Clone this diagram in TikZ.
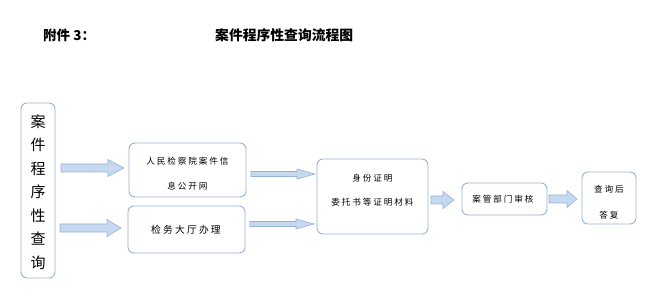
\documentclass[tikz,border=0pt]{standalone}
\usepackage{fontspec}
\setmainfont{Noto Sans CJK SC}
\newfontfamily\cjk{Noto Sans CJK SC}
\newfontfamily\cjksmall[LetterSpace=22]{Noto Sans CJK SC}
\definecolor{bordc}{HTML}{95B3D7}
\definecolor{arrfill}{HTML}{C6D9F1}
\begin{document}
\begin{tikzpicture}[x=1pt,y=-1pt,
  box/.style={draw=bordc, line width=0.9pt, rounded corners=6pt},
  barrow/.style={draw=bordc, fill=arrfill, line width=0.6pt, line join=miter},
  small/.style={font=\cjksmall\fontsize{8.6}{10}\selectfont, align=center, inner sep=0pt}
]
\useasboundingbox (0,0) rectangle (655,304);
% titles
\node[font=\cjk\bfseries\fontsize{13.5}{15}\selectfont, anchor=west, inner sep=0pt] (t1) at (43,35) {附件 3：};
\node[font=\cjk\bfseries\fontsize{13.8}{15}\selectfont, anchor=west, inner sep=0pt] (t2) at (215,35) {案件程序性查询流程图};
% boxes
\draw[box] (21,103) rectangle (55,278);
\node[inner sep=0pt, font=\cjk\fontsize{15}{23.5}\selectfont, align=center] (left) at (38,192) {案\\件\\程\\序\\性\\查\\询};
\draw[box] (129,143) rectangle (246,197);
\node[small] (b1a) at (187.5,161) {人民检察院案件信};
\node[small] (b1b) at (187.5,186) {息公开网};
\draw[box] (128,206) rectangle (245,253);
\node[inner sep=0pt, font=\cjksmall\fontsize{9.8}{10}\selectfont] (b2) at (186,230) {检务大厅办理};
\draw[box] (317,159) rectangle (428,234);
\node[small] (b3a) at (372.5,178) {身份证明};
\node[small] (b3b) at (372.5,202) {委托书等证明材料};
\draw[box] (462,183) rectangle (547,215);
\node[small] (b4) at (503,199) {案管部门审核};
\draw[box] (582,172) rectangle (636,224);
\node[small] (b5a) at (609,189) {查询后};
\node[small] (b5b) at (609,215) {答复};
% block arrows: x1 x2 y halfshaft halfhead headstart
\newcommand{\blkarrow}[6]{%
  \draw[barrow] (#1,#3-#4) -- (#6,#3-#4) -- (#6,#3-#5) -- (#2,#3) -- (#6,#3+#5) -- (#6,#3+#4) -- (#1,#3+#4) -- cycle;}
\blkarrow{61}{124}{168}{4}{8.5}{108}
\blkarrow{60}{121}{228}{4}{8.5}{107}
\blkarrow{251}{315}{174}{2.5}{5}{297}
\blkarrow{250}{314}{224}{2.5}{5}{296}
\blkarrow{431}{454}{200}{4}{8.5}{443}
\blkarrow{549}{577}{199}{4}{8.5}{567}
\end{tikzpicture}
\end{document}
